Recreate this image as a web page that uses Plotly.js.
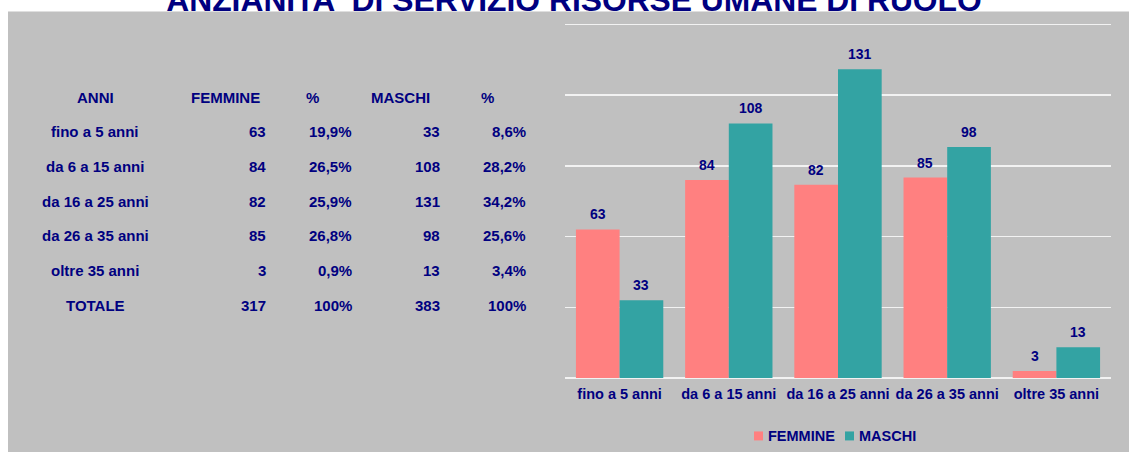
<!DOCTYPE html>
<html>
<head>
<meta charset="utf-8">
<script src="https://cdn.plot.ly/plotly-3.0.1.min.js"></script>
<style>html,body{margin:0;padding:0;background:#fff;}#chart{width:1129px;height:452px;}</style>
</head>
<body>
<div id="chart"></div>
<script>
var categories = ['fino a 5 anni', 'da 6 a 15 anni', 'da 16 a 25 anni', 'da 26 a 35 anni', 'oltre 35 anni'];
var femmine = [63, 84, 82, 85, 3];
var maschi = [33, 108, 131, 98, 13];
var femminePct = ['19,9%', '26,5%', '25,9%', '26,8%', '0,9%'];
var maschiPct = ['8,6%', '28,2%', '34,2%', '25,6%', '3,4%'];
var totaleLabel = 'TOTALE';
var totaleFemmine = 317;
var totaleMaschi = 383;
var totalePct = ['100%', '100%'];
var tableHeaders = ['ANNI', 'FEMMINE', '%', 'MASCHI', '%'];
var seriesNames = ['FEMMINE', 'MASCHI'];
var seriesColors = ['#FF8080', '#33A3A3'];
var titleText = "ANZIANITA' DI SERVIZIO RISORSE UMANE DI RUOLO";

var NAVY = '#000080';
var FONT = 'Liberation Sans, Arial, sans-serif';
var W = 1129, H = 452;
var M = {l: 565, r: 18, t: 21.6, b: 74, autoexpand: false};
var PW = W - M.l - M.r, PH = H - M.t - M.b;
function px(x) { return (x - M.l) / PW; }
function py(y) { return (H - M.b - y) / PH; }

var annotations = [];
var shapes = [{type: 'rect', xref: 'paper', yref: 'paper', x0: px(8), x1: px(W + 2), y0: py(11), y1: py(H + 2),
               fillcolor: '#C0C0C0', line: {width: 0}, layer: 'below'}];

function cell(text, x, y, anchor) {
  annotations.push({
    text: String(text), xref: 'paper', yref: 'paper', x: px(x), y: py(y),
    xanchor: anchor, yanchor: 'middle', showarrow: false, borderpad: 0,
    font: {family: FONT, size: 15, color: NAVY, weight: 'bold'}
  });
}
var rowY0 = 97, rowStep = 34.7;
var colCenter = [95, 225.3, 312.3, 400, 487.7];
tableHeaders.forEach(function (h, i) { cell(h, colCenter[i], rowY0, 'center'); });
var rightX = [267.3, 353.3, 441, 527.3];
categories.forEach(function (c, i) {
  var y = rowY0 + rowStep * (i + 1);
  cell(c, 95, y, 'center');
  cell(femmine[i], rightX[0], y, 'right');
  cell(femminePct[i], rightX[1], y, 'right');
  cell(maschi[i], rightX[2], y, 'right');
  cell(maschiPct[i], rightX[3], y, 'right');
});
var yT = rowY0 + rowStep * 6;
cell(totaleLabel, 95, yT, 'center');
cell(totaleFemmine, rightX[0], yT, 'right');
cell(totalePct[0], rightX[1], yT, 'right');
cell(totaleMaschi, rightX[2], yT, 'right');
cell(totalePct[1], rightX[3], yT, 'right');

// value labels above bars (data coordinates, shifted to each bar of the group)
var labelFont = {family: FONT, size: 14, color: NAVY, weight: 'bold'};
var barHalf = PW / categories.length * 0.8 / 4;
[femmine, maschi].forEach(function (series, s) {
  series.forEach(function (v, i) {
    annotations.push({text: String(v), xref: 'x', yref: 'y', x: categories[i], y: v,
      xshift: (s === 0 ? -1 : 1) * barHalf, yshift: 15, yanchor: 'middle', xanchor: 'center',
      showarrow: false, font: labelFont});
  });
});

// legend (manual, to match compact spacing)
var legendItems = [{x: 754, tx: 767}, {x: 845, tx: 858}];
legendItems.forEach(function (it, s) {
  shapes.push({type: 'rect', xref: 'paper', yref: 'paper', x0: px(it.x), x1: px(it.x + 9),
    y0: py(431.5), y1: py(440.5), fillcolor: seriesColors[s], line: {width: 0}});
  annotations.push({text: seriesNames[s], xref: 'paper', yref: 'paper', x: px(it.tx), y: py(436.5),
    xanchor: 'left', yanchor: 'middle', showarrow: false, borderpad: 0,
    font: {family: FONT, size: 14.5, color: NAVY, weight: 'bold'}});
});

var traces = [
  {type: 'bar', name: seriesNames[0], x: categories, y: femmine, marker: {color: seriesColors[0]}, hoverinfo: 'x+y'},
  {type: 'bar', name: seriesNames[1], x: categories, y: maschi, marker: {color: seriesColors[1]}, hoverinfo: 'x+y'}
];

var layout = {
  width: W, height: H,
  margin: M,
  paper_bgcolor: '#FFFFFF',
  plot_bgcolor: '#C0C0C0',
  font: {family: FONT, color: NAVY},
  title: {text: titleText, font: {family: FONT, size: 31.8, color: NAVY, weight: 'bold'},
          xref: 'container', yref: 'container', x: 574 / W, xanchor: 'center', y: 1.0, yanchor: 'middle'},
  barmode: 'group', bargap: 0.2, bargroupgap: 0,
  xaxis: {type: 'category', showgrid: false, showline: false, zeroline: false, ticks: '', ticklabelstandoff: 5,
          tickfont: {family: FONT, size: 14.5, color: NAVY, weight: 'bold'}, fixedrange: true},
  yaxis: {range: [0, 151], tick0: 0, dtick: 30, showticklabels: false, showgrid: true, gridcolor: '#F2F2F2', gridwidth: 1.5,
          zeroline: true, zerolinecolor: '#F2F2F2', zerolinewidth: 2, showline: false, ticks: '', fixedrange: true},
  showlegend: false,
  shapes: shapes,
  annotations: annotations
};

Plotly.newPlot('chart', traces, layout, {displayModeBar: false, staticPlot: true});
</script>
</body>
</html>
